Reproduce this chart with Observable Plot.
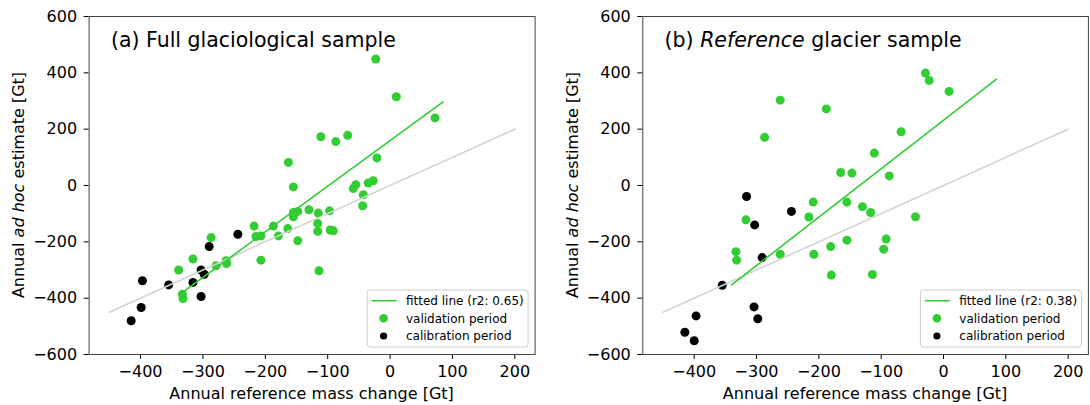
<!DOCTYPE html>
<html>
<head>
<meta charset="utf-8">
<script src="https://cdn.jsdelivr.net/npm/d3@7"></script>
<script src="https://cdn.jsdelivr.net/npm/@observablehq/plot@0.6"></script>
<style>
  body { margin: 0; background: white; }
  #wrap { display: flex; width: 1090px; height: 405px; }
  #wrap svg { display: block; }
</style>
</head>
<body>
<div id="wrap"></div>
<script>
// ---- Tick values ----
const xTicks = [-400, -300, -200, -100, 0, 100, 200];
const yTicks = [-600, -400, -200, 0, 200, 400, 600];

// ---- Panel (a): full glaciological sample ----
const aValX = [-111, -87, -163, -155, -23, 10, 72, -68, -21, -55, -35, -27, -59, -43, -44, -97, -91, -155, -148, -155, -130, -115, -116, -116, -96, -218, -187, -164, -215, -207, -179, -148, -207, -114, -287, -316, -339, -279, -263, -262, -333, -332];
const aValY = [173, 156, 82, -5, 449, 315, 240, 178, 98, 3, 9, 17, -11, -33, -72, -90, -161, -96, -92, -111, -86, -98, -135, -163, -158, -144, -144, -153, -181, -179, -179, -196, -265, -303, -185, -261, -300, -285, -267, -277, -386, -401];
const aCalX = [-244, -290, -303, -298, -316, -355, -397, -303, -399, -415];
const aCalY = [-173, -217, -300, -315, -344, -353, -338, -394, -433, -480];
const aFitX = [-335, 85];
const aFitY = [-383, 297];
const aR2 = "0.65";

// ---- Panel (b): reference glacier sample ----
const bValX = [-262, -188, -287, -111, -165, -147, -29, -23, 9, -68, -87, -209, -155, -130, -117, -216, -317, -155, -181, -208, -262, -333, -332, -180, -114, -45, -92, -96];
const bValY = [303, 272, 171, 115, 46, 44, 399, 373, 334, 191, 34, -59, -59, -75, -96, -112, -122, -194, -217, -244, -244, -235, -265, -318, -316, -111, -190, -226];
const bCalX = [-316, -244, -303, -291, -355, -304, -298, -397, -415, -400];
const bCalY = [-39, -92, -140, -256, -354, -431, -473, -463, -521, -551];
const bFitX = [-340, 85];
const bFitY = [-353, 378];
const bR2 = "0.38";

// ---- 1:1 reference line ----
const oneX = [-450, 200];
const oneY = [-450, 200];

const GREEN = "limegreen";
const W = 545, H = 405, MT = 16, MB = 51;

function pts(xs, ys) { return xs.map((x, i) => ({x, y: ys[i]})); }

function panel({valX, valY, calX, calY, fitX, fitY, r2, marginLeft, marginRight, titleParts}) {
  const svg = Plot.plot({
    width: W, height: H,
    marginLeft, marginRight, marginTop: MT, marginBottom: MB,
    style: {fontFamily: "DejaVu Sans", fontSize: "16px", color: "black", background: "white", overflow: "visible"},
    x: {domain: [-482.5, 232.5], ticks: xTicks, tickSize: 5, tickPadding: 6, label: null},
    y: {domain: [-600, 600], ticks: yTicks, tickSize: 5, tickPadding: 7, label: null},
    marks: [
      Plot.dot(pts(valX, valY), {x: "x", y: "y", r: 4.5, fill: GREEN}),
      Plot.dot(pts(calX, calY), {x: "x", y: "y", r: 4.5, fill: "black"}),
      Plot.line(pts(oneX, oneY), {x: "x", y: "y", stroke: "lightgray", strokeWidth: 1.6}),
      Plot.line(pts(fitX, fitY), {x: "x", y: "y", stroke: GREEN, strokeWidth: 1.6}),
      Plot.frame({stroke: "#444", strokeWidth: 1})
    ]
  });
  const s = d3.select(svg);
  const left = marginLeft, right = W - marginRight, top = MT, bottom = H - MB;
  const g = s.append("g").attr("font-family", "DejaVu Sans").attr("fill", "black").attr("text-anchor", "start");

  // y label
  const yl = g.append("text")
    .attr("transform", `translate(${left - 70},${(top + bottom) / 2}) rotate(-90)`)
    .attr("text-anchor", "middle").attr("font-size", 16).attr("dy", "0.35em");
  yl.append("tspan").text("Annual ");
  yl.append("tspan").attr("font-style", "italic").text("ad hoc");
  yl.append("tspan").text(" estimate [Gt]");

  // x label
  g.append("text").attr("x", (left + right) / 2).attr("y", 399)
    .attr("text-anchor", "middle").attr("font-size", 16)
    .text("Annual reference mass change [Gt]");

  // panel title
  const t = g.append("text").attr("x", left + 22.3).attr("y", 47).attr("font-size", 20.5).attr("text-anchor", "start");
  titleParts.forEach(([txt, it]) => {
    const sp = t.append("tspan").text(txt);
    if (it) sp.attr("font-style", "italic");
  });

  // legend
  const lg = g.append("g").attr("font-size", 12).attr("text-anchor", "start");
  lg.append("rect").attr("x", right - 167.5).attr("y", bottom - 64).attr("width", 161).attr("height", 57)
    .attr("rx", 3).attr("fill", "white").attr("fill-opacity", 0.8).attr("stroke", "#ccc");
  const rows = [bottom - 53.3, bottom - 35.7, bottom - 18];
  lg.append("line").attr("x1", right - 163).attr("x2", right - 138).attr("y1", rows[0]).attr("y2", rows[0])
    .attr("stroke", GREEN).attr("stroke-width", 1.6);
  lg.append("circle").attr("cx", right - 151).attr("cy", rows[1]).attr("r", 4.3).attr("fill", GREEN);
  lg.append("circle").attr("cx", right - 151).attr("cy", rows[2]).attr("r", 3.6).attr("fill", "black");
  [`fitted line (r2: ${r2})`, "validation period", "calibration period"].forEach((txt, i) => {
    lg.append("text").attr("x", right - 128.6).attr("y", rows[i]).attr("dy", "0.35em").text(txt);
  });
  return svg;
}

const wrap = document.getElementById("wrap");
wrap.appendChild(panel({valX: aValX, valY: aValY, calX: aCalX, calY: aCalY, fitX: aFitX, fitY: aFitY, r2: aR2,
  marginLeft: 88.6, marginRight: 10.4, titleParts: [["(a) Full glaciological sample", false]]}));
wrap.appendChild(panel({valX: bValX, valY: bValY, calX: bCalX, calY: bCalY, fitX: bFitX, fitY: bFitY, r2: bR2,
  marginLeft: 97.3, marginRight: 2.1, titleParts: [["(b) ", false], ["Reference", true], [" glacier sample", false]]}));
</script>
</body>
</html>
